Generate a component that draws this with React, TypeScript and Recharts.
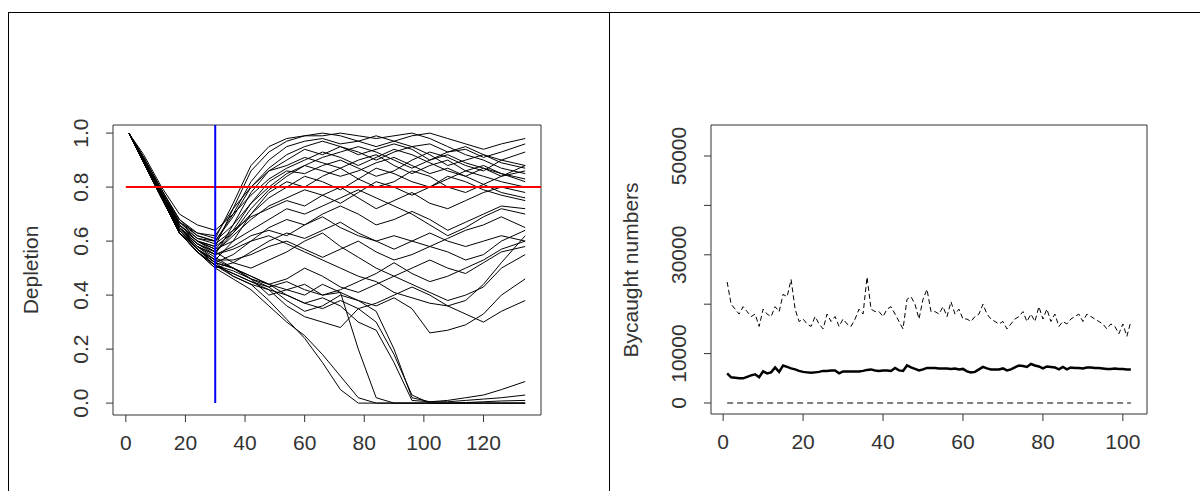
import React from 'react';
import { LineChart, Line, XAxis, YAxis, ReferenceLine, ReferenceArea, Label } from 'recharts';

// left panel: depletion trajectories
const years = [1, 6, 12, 18, 24, 30, 36, 42, 48, 54, 60, 66, 72, 78, 84, 90, 96, 102, 108, 114, 120, 126, 134];

const runs: number[][] = [
  [1, 0.9, 0.77, 0.66, 0.6, 0.58, 0.72, 0.86, 0.93, 0.97, 0.99, 0.99, 1.0, 0.99, 0.98, 0.99, 1.0, 0.98, 0.95, 0.92, 0.9, 0.87, 0.85],
  [1, 0.91, 0.79, 0.68, 0.62, 0.6, 0.7, 0.82, 0.9, 0.95, 0.97, 0.98, 0.96, 0.97, 0.99, 0.97, 0.95, 0.96, 0.93, 0.94, 0.91, 0.93, 0.96],
  [1, 0.89, 0.76, 0.64, 0.58, 0.55, 0.66, 0.78, 0.86, 0.9, 0.94, 0.92, 0.95, 0.93, 0.9, 0.93, 0.95, 0.92, 0.88, 0.9, 0.92, 0.89, 0.87],
  [1, 0.9, 0.78, 0.67, 0.63, 0.62, 0.72, 0.8, 0.86, 0.88, 0.91, 0.89, 0.87, 0.9, 0.92, 0.88, 0.85, 0.88, 0.9, 0.86, 0.84, 0.82, 0.8],
  [1, 0.9, 0.77, 0.65, 0.6, 0.57, 0.64, 0.74, 0.82, 0.86, 0.85, 0.88, 0.9, 0.87, 0.84, 0.86, 0.9, 0.93, 0.91, 0.88, 0.86, 0.9, 0.93],
  [1, 0.92, 0.8, 0.7, 0.66, 0.64, 0.7, 0.77, 0.83, 0.87, 0.9, 0.93, 0.91, 0.88, 0.91, 0.94, 0.92, 0.89, 0.86, 0.84, 0.87, 0.85, 0.82],
  [1, 0.89, 0.76, 0.63, 0.57, 0.53, 0.6, 0.7, 0.78, 0.82, 0.8, 0.84, 0.87, 0.83, 0.8, 0.82, 0.86, 0.84, 0.8, 0.78, 0.81, 0.84, 0.88],
  [1, 0.9, 0.78, 0.66, 0.6, 0.58, 0.63, 0.7, 0.76, 0.8, 0.84, 0.82, 0.79, 0.83, 0.87, 0.85, 0.82, 0.8, 0.83, 0.86, 0.88, 0.85, 0.83],
  [1, 0.91, 0.79, 0.67, 0.61, 0.6, 0.66, 0.74, 0.8, 0.85, 0.88, 0.86, 0.84, 0.86, 0.89, 0.91, 0.88, 0.85, 0.87, 0.84, 0.81, 0.78, 0.76],
  [1, 0.9, 0.77, 0.65, 0.59, 0.56, 0.62, 0.68, 0.73, 0.76, 0.79, 0.77, 0.74, 0.78, 0.82, 0.8, 0.77, 0.8, 0.84, 0.82, 0.79, 0.77, 0.75],
  [1, 0.9, 0.78, 0.66, 0.61, 0.59, 0.64, 0.69, 0.72, 0.75, 0.73, 0.77, 0.8, 0.76, 0.72, 0.75, 0.78, 0.74, 0.72, 0.75, 0.78, 0.8, 0.78],
  [1, 0.9, 0.77, 0.64, 0.57, 0.52, 0.55, 0.6, 0.65, 0.68, 0.66, 0.7, 0.73, 0.7, 0.66, 0.68, 0.71, 0.68, 0.64, 0.67, 0.7, 0.73, 0.72],
  [1, 0.89, 0.76, 0.63, 0.56, 0.5, 0.52, 0.56, 0.6, 0.63, 0.61, 0.64, 0.67, 0.63, 0.6, 0.62, 0.6, 0.58, 0.61, 0.64, 0.66, 0.69, 0.65],
  [1, 0.9, 0.77, 0.65, 0.58, 0.55, 0.58, 0.62, 0.64, 0.62, 0.66, 0.69, 0.65, 0.62, 0.6, 0.57, 0.6, 0.63, 0.6, 0.58, 0.6, 0.62, 0.6],
  [1, 0.9, 0.77, 0.64, 0.57, 0.53, 0.53, 0.55, 0.58, 0.6, 0.57, 0.54, 0.57, 0.6, 0.56, 0.53, 0.55, 0.58, 0.56, 0.53, 0.55, 0.6, 0.64],
  [1, 0.9, 0.78, 0.66, 0.6, 0.56, 0.52, 0.5, 0.53, 0.56, 0.6, 0.63, 0.58, 0.54, 0.5, 0.47, 0.5, 0.53, 0.5, 0.48, 0.52, 0.56, 0.58],
  [1, 0.89, 0.76, 0.63, 0.56, 0.51, 0.49, 0.46, 0.44, 0.46, 0.5, 0.47, 0.43, 0.41, 0.44, 0.47, 0.44, 0.41, 0.38, 0.4, 0.43, 0.5, 0.55],
  [1, 0.9, 0.77, 0.64, 0.57, 0.52, 0.5, 0.47, 0.44, 0.42, 0.4, 0.44, 0.41, 0.38, 0.36, 0.39, 0.35, 0.26, 0.27, 0.29, 0.33, 0.4, 0.46],
  [1, 0.9, 0.77, 0.64, 0.57, 0.52, 0.47, 0.44, 0.42, 0.4, 0.37, 0.35, 0.38, 0.35, 0.37, 0.4, 0.43, 0.4, 0.36, 0.33, 0.3, 0.34, 0.38],
  [1, 0.89, 0.76, 0.63, 0.56, 0.51, 0.48, 0.45, 0.43, 0.45, 0.42, 0.4, 0.42, 0.45, 0.48, 0.52, 0.48, 0.45, 0.47, 0.5, 0.53, 0.57, 0.6],
  [1, 0.9, 0.77, 0.64, 0.57, 0.51, 0.47, 0.44, 0.38, 0.31, 0.24, 0.15, 0.05, 0, 0, 0, 0, 0, 0, 0, 0, 0, 0],
  [1, 0.9, 0.76, 0.63, 0.56, 0.5, 0.46, 0.42, 0.36, 0.3, 0.25, 0.18, 0.1, 0.02, 0, 0, 0, 0, 0, 0, 0, 0, 0],
  [1, 0.9, 0.77, 0.64, 0.57, 0.52, 0.5, 0.46, 0.4, 0.42, 0.44, 0.4, 0.41, 0.2, 0.02, 0, 0, 0, 0, 0, 0, 0, 0],
  [1, 0.9, 0.77, 0.65, 0.58, 0.53, 0.5, 0.46, 0.43, 0.38, 0.34, 0.36, 0.4, 0.38, 0.34, 0.2, 0.02, 0.005, 0.01, 0.02, 0.03, 0.05, 0.08],
  [1, 0.9, 0.78, 0.65, 0.58, 0.54, 0.5, 0.47, 0.44, 0.4, 0.37, 0.39, 0.36, 0.3, 0.27, 0.15, 0.01, 0.005, 0.005, 0.01, 0.015, 0.02, 0.03],
  [1, 0.89, 0.76, 0.63, 0.56, 0.51, 0.48, 0.45, 0.42, 0.36, 0.32, 0.3, 0.28, 0.35, 0.3, 0.18, 0.03, 0, 0, 0.002, 0.005, 0.008, 0.01],
  [1, 0.91, 0.79, 0.68, 0.63, 0.61, 0.74, 0.88, 0.95, 0.98, 0.99, 1.0, 0.99, 0.97, 0.95, 0.97, 0.99, 1.0, 0.98, 0.96, 0.94, 0.96, 0.98],
  [1, 0.9, 0.78, 0.67, 0.62, 0.6, 0.69, 0.8, 0.87, 0.92, 0.95, 0.97, 0.95, 0.92, 0.94, 0.96, 0.94, 0.9, 0.92, 0.89, 0.87, 0.84, 0.86],
  [1, 0.9, 0.77, 0.65, 0.59, 0.56, 0.63, 0.72, 0.79, 0.84, 0.88, 0.91, 0.93, 0.95, 0.93, 0.9, 0.87, 0.9, 0.93, 0.95, 0.92, 0.9, 0.88],
  [1, 0.9, 0.78, 0.66, 0.6, 0.57, 0.6, 0.64, 0.68, 0.72, 0.7, 0.73, 0.76, 0.79, 0.76, 0.73, 0.7, 0.66, 0.62, 0.65, 0.69, 0.72, 0.7],
  [1, 0.9, 0.77, 0.65, 0.59, 0.55, 0.57, 0.6, 0.62, 0.59, 0.56, 0.53, 0.5, 0.47, 0.45, 0.41, 0.39, 0.37, 0.36, 0.38, 0.44, 0.52, 0.62],
];

const leftXTicks = [0, 20, 40, 60, 80, 100, 120];
const leftYTicks = [0, 0.2, 0.4, 0.6, 0.8, 1.0];

// right panel: bycatch numbers per year
const bycatchUpper = [
  24.5, 20, 19, 18, 19.5, 18.5, 17.5, 18, 15.5, 19,
  18, 17.5, 19.5, 18.5, 22, 21.5, 25, 19, 16.5, 17,
  16, 15.5, 17.5, 16, 15, 18, 16.5, 17.5, 15.5, 17,
  16, 15.5, 17, 19, 18, 25.5, 19, 18.5, 18.5, 17.5,
  19, 19.5, 18, 16.5, 15, 21, 21.5, 20, 17, 21,
  23, 18.5, 18.5, 18, 19.5, 17.5, 20.5, 18, 19, 17,
  17, 16.5, 17.5, 18, 20, 18, 17, 16.5, 16, 16.5,
  15, 16, 17, 17.5, 18.5, 16.5, 18, 16.5, 19.5, 17,
  19, 16.5, 18, 15.5, 16.5, 16, 17, 17.5, 18, 16.5,
  18, 17.5, 17, 16.5, 16, 15, 16, 15.5, 14, 16,
  13.5, 16.5,
];
const bycatchMedian = [
  6, 5.2, 5.1, 5, 5, 5.3, 5.6, 5.8, 5.2, 6.4,
  6, 6.2, 7.2, 6.3, 7.6, 7.3, 7, 6.8, 6.5, 6.3,
  6.2, 6.1, 6.2, 6.3, 6.5, 6.5, 6.6, 6.6, 6, 6.4,
  6.4, 6.4, 6.4, 6.4, 6.5, 6.7, 6.8, 6.6, 6.5, 6.6,
  6.6, 6.5, 7.1, 6.6, 6.5, 7.6, 7.2, 6.9, 6.6, 6.8,
  7.1, 7.1, 7.1, 7, 7, 7, 6.9, 7, 6.8, 6.9,
  6.4, 6.2, 6.3, 6.8, 7.3, 7, 6.8, 6.8, 6.8, 7,
  6.6, 6.8, 7.2, 7.6, 7.5, 7.3, 7.9, 7.6, 7.4, 7.0,
  7.4, 7.3, 7.2, 6.8, 7.3, 6.8, 7.2, 7.1, 7.1, 7.0,
  7.2, 7.2, 7.1, 7.1, 7.0, 6.9, 6.9, 7.0, 6.9, 6.9,
  6.8, 6.8,
];
const rightXTicks = [0, 20, 40, 60, 80, 100];
const rightYTicks = [0, 10000, 20000, 30000, 40000, 50000];
const rightYLabelled = [0, 10000, 30000, 50000];

const leftData = years.map((year, i) => {
  const row: Record<string, number> = { year };
  runs.forEach((r, j) => {
    if (r[i] !== undefined) row['r' + j] = r[i];
  });
  return row;
});

const rightData = bycatchUpper.map((u, i) => ({
  year: i + 1,
  upper: u * 1000,
  median: bycatchMedian[i] * 1000,
}));

const FONT = '"Liberation Sans", Arial, sans-serif';
const INK = '#333';
const FS = 21;

const XTick = ({ x, y, payload }: any) => (
  <text x={x} y={y + 26} textAnchor="middle" style={{ fontSize: FS, fontFamily: FONT }} fill={INK}>
    {payload.value}
  </text>
);

const LeftYTick = ({ x, y, payload }: any) => (
  <text transform={`translate(${x - 16},${y}) rotate(-90)`} textAnchor="middle" style={{ fontSize: FS, fontFamily: FONT }} fill={INK}>
    {Number(payload.value).toFixed(1)}
  </text>
);

const RightYTick = ({ x, y, payload }: any) =>
  rightYLabelled.includes(payload.value) ? (
    <text transform={`translate(${x - 16},${y}) rotate(-90)`} textAnchor="middle" style={{ fontSize: FS, fontFamily: FONT }} fill={INK}>
      {payload.value}
    </text>
  ) : null;

const axisLabel = (text: string, cx: number, cy: number) => () => (
  <text transform={`translate(${cx},${cy}) rotate(-90)`} textAnchor="middle" style={{ fontSize: FS, fontFamily: FONT }} fill={INK}>
    {text}
  </text>
);

export default function App() {
  return (
    <div style={{ position: 'absolute', left: 0, top: 0, width: 1200, height: 491, background: '#fff', overflow: 'hidden' }}>
      <div style={{ position: 'absolute', left: 8, top: 12, width: 1200, height: 600, borderTop: '1px solid #000', borderLeft: '1px solid #000' }} />
      <div style={{ position: 'absolute', left: 609, top: 12, width: 1, height: 480, background: '#000' }} />

      <div style={{ position: 'absolute', left: 0, top: 0 }}>
        <LineChart width={600} height={491} data={leftData} margin={{ top: 125, right: 59, bottom: 36, left: 63 }}>
          <XAxis
            dataKey="year"
            type="number"
            domain={[-4.3, 139.3]}
            ticks={leftXTicks}
            tickSize={7}
            tick={<XTick />}
            axisLine={false}
            tickLine={{ stroke: INK }}
            height={40}
          />
          <YAxis
            type="number"
            domain={[-0.044, 1.03]}
            ticks={leftYTicks}
            tickSize={7}
            tick={<LeftYTick />}
            axisLine={false}
            tickLine={{ stroke: INK }}
            width={50}
          >
            <Label content={axisLabel('Depletion', 38, 270)} />
          </YAxis>
          <ReferenceArea x1={-4.3} x2={139.3} y1={-0.044} y2={1.03} fill="none" stroke={INK} strokeWidth={1} />
          {runs.map((_, j) => (
            <Line key={j} dataKey={'r' + j} stroke="#000" strokeWidth={1} dot={false} isAnimationActive={false} type="linear" />
          ))}
          <ReferenceLine segment={[{ x: 0, y: 0.8 }, { x: 139.3, y: 0.8 }]} stroke="#ff0000" strokeWidth={2} />
          <ReferenceLine segment={[{ x: 30, y: 0 }, { x: 30, y: 1.03 }]} stroke="#0000ff" strokeWidth={2} />
        </LineChart>
      </div>

      <div style={{ position: 'absolute', left: 600, top: 0 }}>
        <LineChart width={600} height={491} data={rightData} margin={{ top: 125, right: 53, bottom: 37, left: 61 }}>
          <XAxis
            dataKey="year"
            type="number"
            domain={[-3.04, 106.04]}
            ticks={rightXTicks}
            tickSize={7}
            tick={<XTick />}
            axisLine={false}
            tickLine={{ stroke: INK }}
            height={40}
          />
          <YAxis
            type="number"
            domain={[-2227, 56275]}
            ticks={rightYTicks}
            tickSize={7}
            tick={<RightYTick />}
            axisLine={false}
            tickLine={{ stroke: INK }}
            width={50}
          >
            <Label content={axisLabel('Bycaught numbers', 38, 270)} />
          </YAxis>
          <ReferenceArea x1={-3.04} x2={106.04} y1={-2227} y2={56275} fill="none" stroke={INK} strokeWidth={1} />
          <ReferenceLine segment={[{ x: 1, y: 0 }, { x: 102, y: 0 }]} stroke="#000" strokeDasharray="6 4" />
          <Line dataKey="upper" stroke="#000" strokeWidth={1} strokeDasharray="5 3" dot={false} isAnimationActive={false} type="linear" />
          <Line dataKey="median" stroke="#000" strokeWidth={2.5} dot={false} isAnimationActive={false} type="linear" />
        </LineChart>
      </div>
    </div>
  );
}
